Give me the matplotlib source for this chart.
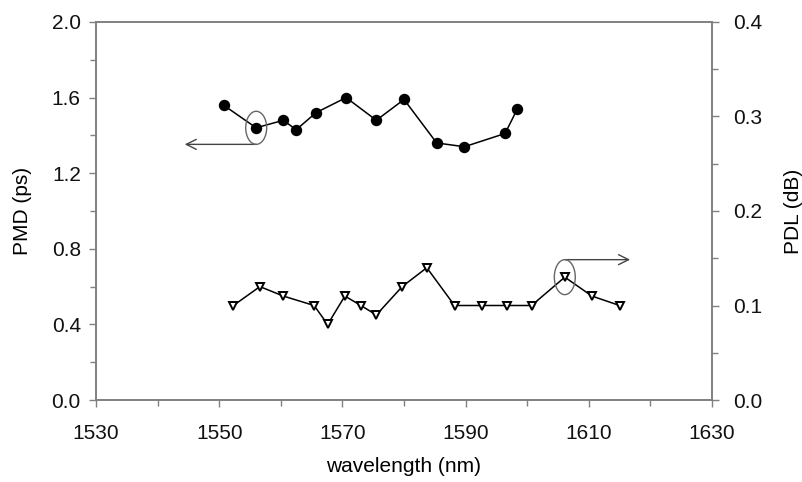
import numpy as np
import matplotlib
matplotlib.use("Agg")
from matplotlib import pyplot as plt
from matplotlib.patches import Ellipse
from matplotlib.ticker import MultipleLocator

plt.rcParams['font.family'] = ['Liberation Sans', 'DejaVu Sans']

# PMD data (left axis, filled circles)
pmd_wl = [1550.7, 1556.0, 1560.4, 1562.5, 1565.7, 1570.6, 1575.5, 1580.0,
          1585.3, 1589.8, 1596.4, 1598.4]
pmd_ps = [1.56, 1.44, 1.48, 1.43, 1.52, 1.60, 1.48, 1.59, 1.36, 1.34, 1.41, 1.54]

# PDL data (right axis, open triangles)
pdl_wl = [1552.3, 1556.6, 1560.4, 1565.4, 1567.6, 1570.4, 1573.0, 1575.5,
          1579.7, 1583.7, 1588.2, 1592.6, 1596.7, 1600.7, 1606.1, 1610.5, 1615.0]
pdl_db = [0.10, 0.12, 0.11, 0.10, 0.08, 0.11, 0.10, 0.09, 0.12, 0.14,
          0.10, 0.10, 0.10, 0.10, 0.13, 0.11, 0.10]

x_ticks = [1530, 1550, 1570, 1590, 1610, 1630]

spine_col = '#808080'
fs = 15

fig = plt.figure(figsize=(8.03, 4.82), dpi=100)
ax1 = fig.add_axes([0.1196, 0.1701, 0.7671, 0.7843])
ax2 = ax1.twinx()

ax1.plot(pmd_wl, pmd_ps, color='black', lw=1.1, marker='o', ms=7.2,
         mfc='black', mec='black', zorder=3)
ax2.plot(pdl_wl, pdl_db, color='black', lw=1.1, marker='v', ms=6,
         mfc='white', mec='black', mew=1.4, zorder=3)

ax1.set_xlim(1530, 1630)
ax1.set_ylim(0, 2.0)
ax2.set_ylim(0, 0.4)

ax1.set_xticks(x_ticks)
ax1.xaxis.set_minor_locator(MultipleLocator(10))
ax1.yaxis.set_major_locator(MultipleLocator(0.4))
ax1.yaxis.set_minor_locator(MultipleLocator(0.2))
ax2.yaxis.set_major_locator(MultipleLocator(0.1))
ax2.yaxis.set_minor_locator(MultipleLocator(0.05))
ax1.yaxis.set_major_formatter(plt.FormatStrFormatter('%.1f'))
ax2.yaxis.set_major_formatter(plt.FormatStrFormatter('%.1f'))

for ax in (ax1, ax2):
    for s in ax.spines.values():
        s.set_color(spine_col)
        s.set_linewidth(1.2)
    ax.tick_params(which='both', direction='out', color=spine_col, width=1.0)
    ax.tick_params(which='major', length=5, labelsize=fs, labelcolor='#111111')
    ax.tick_params(which='minor', length=4)

ax1.tick_params(axis='x', pad=12)
ax1.tick_params(axis='y', pad=6)
ax2.tick_params(axis='y', pad=10)

ax1.set_xlabel('wavelength (nm)', fontsize=fs, labelpad=10)
ax1.set_ylabel('PMD (ps)', fontsize=fs, labelpad=14)
ax2.set_ylabel('PDL (dB)', fontsize=fs, labelpad=16)

# ellipse + arrow pointing to the left axis
e1 = Ellipse((pmd_wl[1], pmd_ps[1]), 3.4, 0.175, fill=False,
             edgecolor='#666666', lw=1.0, zorder=4)
ax1.add_patch(e1)
ax1.annotate('', xy=(1544.4, pmd_ps[1] - 0.0875),
             xytext=(pmd_wl[1], pmd_ps[1] - 0.0875),
             arrowprops=dict(arrowstyle='->', color='#444444', lw=1.0,
                             mutation_scale=18, shrinkA=0, shrinkB=0))

# ellipse + arrow pointing to the right axis
e2 = Ellipse((pdl_wl[14], pdl_db[14]), 3.4, 0.037, fill=False,
             edgecolor='#666666', lw=1.0, zorder=4)
ax2.add_patch(e2)
ax2.annotate('', xy=(1616.7, pdl_db[14] + 0.0185),
             xytext=(pdl_wl[14], pdl_db[14] + 0.0185),
             arrowprops=dict(arrowstyle='->', color='#444444', lw=1.0,
                             mutation_scale=18, shrinkA=0, shrinkB=0))

fig.savefig('out.png', dpi=100)
